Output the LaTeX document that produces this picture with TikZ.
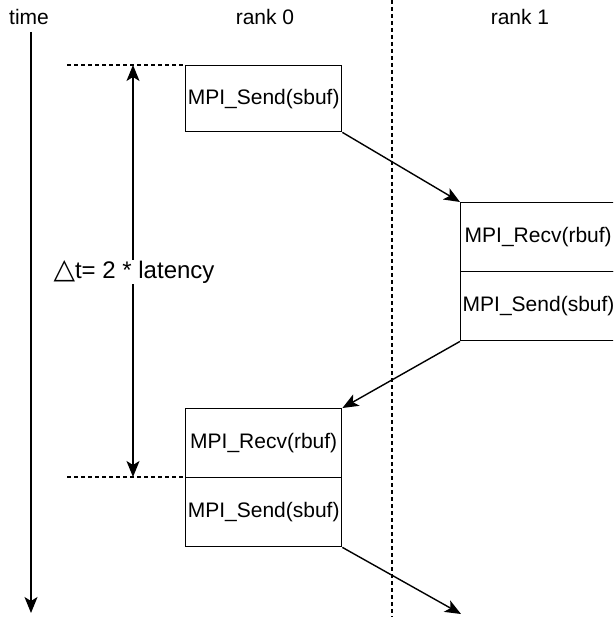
\documentclass[tikz,border=0pt]{standalone}
\usepackage{fontspec}
\setmainfont{Liberation Sans}
\newfontfamily\symfont{DejaVu Sans}
\usetikzlibrary{arrows.meta}
\begin{document}
\begin{tikzpicture}[x=1pt,y=-1pt,
  every node/.style={font=\fontsize{21}{25}\selectfont},
  cell/.style={draw,line width=1.4pt,minimum width=156pt,minimum height=69pt,
    inner sep=0pt,anchor=north west},
  flow/.style={line width=1.4pt,-{Stealth[length=16pt,width=13pt,inset=4pt]}},
  guide/.style={line width=1.1pt,dash pattern=on 4pt off 3pt},
  lbl/.style={inner sep=0pt}]
\useasboundingbox (0,0) rectangle (613,617);
\clip (0,0) rectangle (613,617);

% column headings
\node[lbl] (time) at (29,17) {time};
\node[lbl] (r0) at (265,17) {rank 0};
\node[lbl] (r1) at (520,17) {rank 1};

% separator between the two ranks
\coordinate (sepTop) at (392,0);
\coordinate (sepBot) at (392,617);
\draw[guide] (sepTop) -- (sepBot);

% time axis
\coordinate (tA) at (31,32);
\coordinate (tB) at (31,613);
\draw[flow] (tA) -- (tB);

% rank 0, first send
\node[cell,minimum height=66pt] (s0) at (185,65) {MPI\_Send(sbuf)};

% rank 1, receive then send (its right side runs past the page edge)
\node[cell,text width=152pt,align=left] (r1a) at (460,202) {\hspace*{2pt}MPI\_Recv(rbuf)};
\node[cell,text width=152pt,align=left] (r1b) at (460,271) {MPI\_Send(sbuf)};

% rank 0, receive then send
\node[cell] (r0a) at (185,408) {MPI\_Recv(rbuf)};
\node[cell] (r0b) at (185,477) {MPI\_Send(sbuf)};

% reference marks for the round trip
\coordinate (g1) at (67,65);
\coordinate (g2) at (67,477);
\draw[guide] (g1) -- (s0.north west);
\draw[guide] (g2) -- (r0b.north west);

% messages
\coordinate (out) at (461,614);
\draw[flow] (s0.south east) -- (r1a.north west);
\draw[flow] (r1b.south west) -- (r0a.north east);
\draw[flow] (r0b.south east) -- (out);

% round-trip time
\coordinate (dtA) at (133,65);
\coordinate (dtB) at (133,477);
\draw[line width=1.4pt,{Stealth[length=16pt,width=13pt,inset=4pt]}-{Stealth[length=16pt,width=13pt,inset=4pt]}] (dtA) -- (dtB);
\node[fill=white,inner sep=1pt,font=\fontsize{24}{28}\selectfont] (dt) at (134,272)
  {{\symfont\fontsize{28}{28}\selectfont △}t= 2 * latency};
\end{tikzpicture}
\end{document}
